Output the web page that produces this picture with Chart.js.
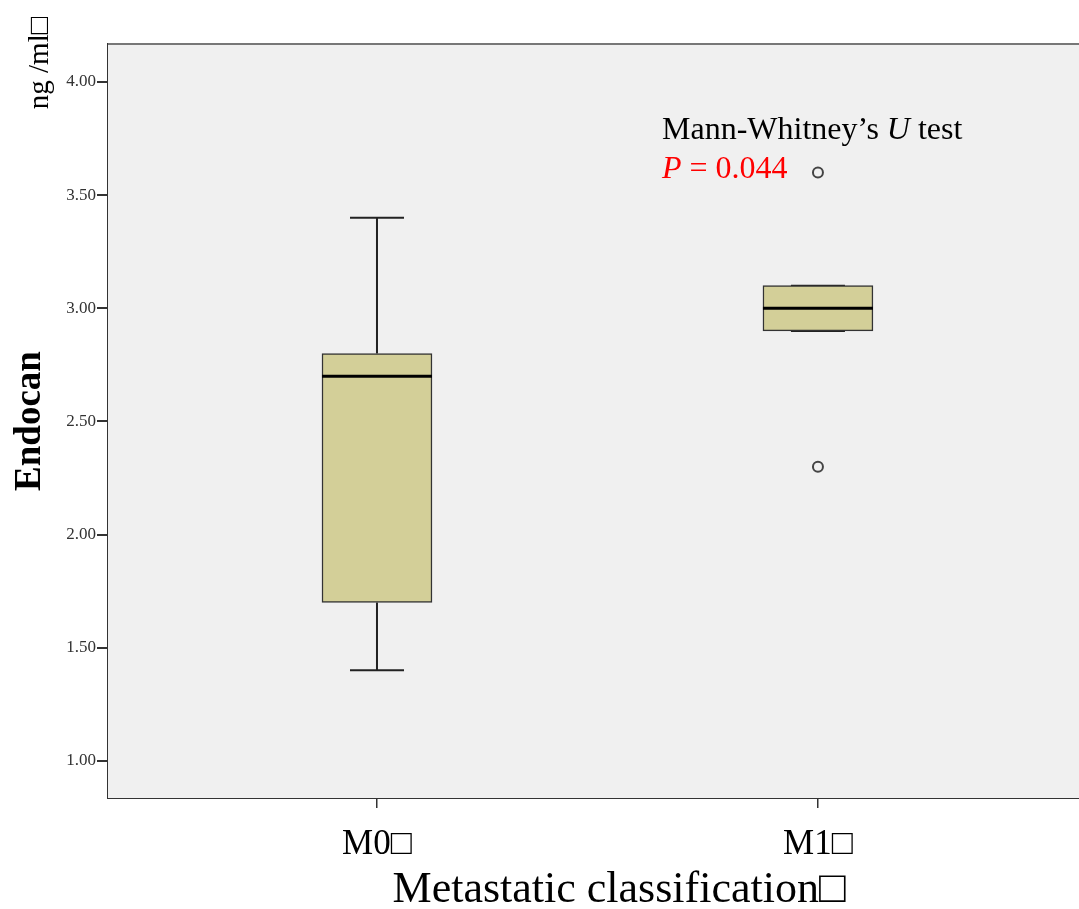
<!DOCTYPE html>
<html>
<head>
<meta charset="utf-8">
<script src="https://cdn.jsdelivr.net/npm/chart.js@4"></script>
<style>
  body { margin: 0; background: #fff; overflow: hidden; }
  canvas { display: block; }
</style>
</head>
<body>
<canvas id="box" width="1079" height="909"></canvas>
<script>
// box plot values
const categories = ['M0\u25A1', 'M1\u25A1'];
const whiskerLow = [1.40, 2.90];
const q1 = [1.70, 2.90];
const median = [2.70, 3.00];
const q3 = [2.80, 3.10];
const whiskerHigh = [3.40, 3.10];
const outlierGroup = [1, 1];
const outlierValue = [3.60, 2.30];
const yTicks = [1.00, 1.50, 2.00, 2.50, 3.00, 3.50, 4.00];

const serif = '"Liberation Serif", "Times New Roman", serif';

const boxData = categories.map((c, i) => ({ x: i, y: [q1[i], q3[i]] }));
const outlierData = outlierGroup.map((g, i) => ({ x: g, y: outlierValue[i] }));

const boxPlugin = {
  id: 'boxExtras',
  beforeDatasetsDraw(chart) {
    const { ctx, chartArea: a, scales } = chart;
    ctx.save();
    ctx.fillStyle = '#f0f0f0';
    ctx.fillRect(a.left, a.top, a.right - a.left, a.bottom - a.top);
    // top frame line
    ctx.strokeStyle = '#777';
    ctx.lineWidth = 2;
    ctx.beginPath();
    ctx.moveTo(a.left, a.top);
    ctx.lineTo(a.right, a.top);
    ctx.stroke();
    // whiskers
    const x = scales.x, y = scales.y;
    const capHalf = 27;
    ctx.strokeStyle = '#222';
    ctx.lineWidth = 2;
    categories.forEach((c, i) => {
      const cx = x.getPixelForValue(i);
      ctx.beginPath();
      ctx.moveTo(cx, y.getPixelForValue(whiskerHigh[i]));
      ctx.lineTo(cx, y.getPixelForValue(q3[i]));
      ctx.moveTo(cx, y.getPixelForValue(q1[i]));
      ctx.lineTo(cx, y.getPixelForValue(whiskerLow[i]));
      ctx.moveTo(cx - capHalf, y.getPixelForValue(whiskerHigh[i]));
      ctx.lineTo(cx + capHalf, y.getPixelForValue(whiskerHigh[i]));
      ctx.moveTo(cx - capHalf, y.getPixelForValue(whiskerLow[i]));
      ctx.lineTo(cx + capHalf, y.getPixelForValue(whiskerLow[i]));
      ctx.stroke();
    });
    ctx.restore();
  },
  afterDatasetsDraw(chart) {
    const { ctx, scales } = chart;
    const x = scales.x, y = scales.y;
    ctx.save();
    ctx.strokeStyle = '#000';
    ctx.lineWidth = 3;
    categories.forEach((c, i) => {
      const cx = x.getPixelForValue(i);
      const my = y.getPixelForValue(median[i]);
      ctx.beginPath();
      ctx.moveTo(cx - 55, my);
      ctx.lineTo(cx + 55, my);
      ctx.stroke();
    });
    ctx.restore();
  },
  afterDraw(chart) {
    const { ctx } = chart;
    ctx.save();
    ctx.fillStyle = '#000';
    ctx.textBaseline = 'alphabetic';
    ctx.textAlign = 'left';
    // annotation
    const fs = 32;
    ctx.font = fs + 'px ' + serif;
    let t1 = 'Mann-Whitney\u2019s ';
    ctx.fillText(t1, 662, 139);
    let w = ctx.measureText(t1).width;
    ctx.font = 'italic ' + fs + 'px ' + serif;
    ctx.fillText('U', 662 + w, 139);
    w += ctx.measureText('U').width;
    ctx.font = fs + 'px ' + serif;
    ctx.fillText(' test', 662 + w, 139);
    ctx.fillStyle = '#f00';
    ctx.font = 'italic ' + fs + 'px ' + serif;
    ctx.fillText('P', 662, 178);
    w = ctx.measureText('P').width;
    ctx.font = fs + 'px ' + serif;
    ctx.fillText(' = 0.044', 662 + w, 178);
    // x title
    ctx.fillStyle = '#000';
    ctx.textAlign = 'center';
    ctx.textBaseline = 'middle';
    ctx.font = '44px ' + serif;
    ctx.fillText('Metastatic classification\u25A1', 619, 890);
    // y titles
    ctx.translate(30, 421);
    ctx.rotate(-Math.PI / 2);
    ctx.font = 'bold 37px ' + serif;
    ctx.fillText('Endocan', 0, 0);
    ctx.rotate(Math.PI / 2);
    ctx.translate(-30, -421);
    ctx.translate(40, 63);
    ctx.rotate(-Math.PI / 2);
    ctx.font = '29px ' + serif;
    ctx.fillText('ng /ml\u25A1', 0, 0);
    ctx.restore();
  }
};

new Chart(document.getElementById('box'), {
  type: 'bar',
  data: {
    datasets: [{
      label: 'box',
      data: boxData,
      backgroundColor: '#d3cf98',
      borderColor: '#333',
      borderWidth: 1.5,
      borderSkipped: false,
      barThickness: 110
    }, {
      type: 'scatter',
      label: 'outliers',
      data: outlierData,
      pointStyle: 'circle',
      pointRadius: 5,
      backgroundColor: 'rgba(0,0,0,0)',
      borderColor: '#444',
      borderWidth: 2
    }]
  },
  options: {
    responsive: false,
    animation: false,
    layout: { autoPadding: false, padding: { top: 44, right: 0, left: 0, bottom: 0 } },
    plugins: { legend: { display: false }, tooltip: { enabled: false } },
    scales: {
      x: {
        type: 'linear',
        offset: false,
        min: -0.61,
        max: 1.592,
        afterBuildTicks: s => { s.ticks = categories.map((c, i) => ({ value: i })); },
        afterFit: s => { s.height = 111; s.paddingRight = 0; s.paddingLeft = 0; },
        ticks: {
          callback: v => categories[v],
          font: { family: serif, size: 35 },
          color: '#000',
          padding: 16,
          maxRotation: 0
        },
        grid: { offset: false, drawOnChartArea: false, drawTicks: true, tickLength: 10, color: '#333', lineWidth: 1.5 },
        border: { display: true, color: '#333', width: 2 }
      },
      y: {
        min: 0.836,
        max: 4.168,
        afterBuildTicks: s => { s.ticks = yTicks.map(v => ({ value: v })); },
        afterFit: s => { s.width = 108; },
        ticks: {
          callback: v => v.toFixed(2),
          font: { family: serif, size: 17 },
          color: '#333',
          padding: 1
        },
        grid: { drawOnChartArea: false, drawTicks: true, tickLength: 11, color: '#333', lineWidth: 2 },
        border: { display: true, color: '#333', width: 2 }
      }
    }
  },
  plugins: [boxPlugin]
});
</script>
</body>
</html>
